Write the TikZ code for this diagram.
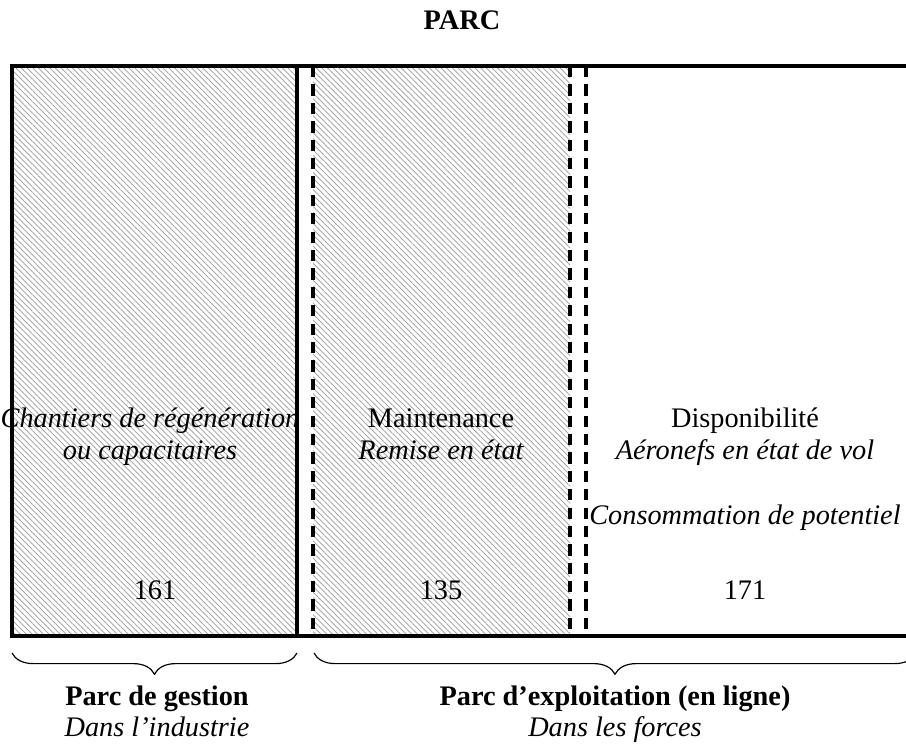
\documentclass[tikz,border=0pt]{standalone}
\usepackage{fontspec}
\setmainfont{Liberation Serif}
\usetikzlibrary{patterns.meta,decorations.pathreplacing}

\tikzset{
  hatch/.style={pattern={Lines[angle=-45,distance=1.7pt,line width=0.3pt]},pattern color=black!40},
  frame/.style={line width=1.7pt},
  dashdiv/.style={line width=1.3pt,dash pattern=on 4.8pt off 3pt},
  parcbrace/.style={decorate,decoration={brace,mirror,amplitude=9pt},line width=0.5pt},
  txt/.style={align=center,inner sep=0pt,anchor=base,font=\fontsize{12}{14}\selectfont},
  txti/.style={txt,font=\fontsize{12}{14}\selectfont\itshape},
  txtb/.style={txt,font=\fontsize{12}{14}\selectfont\bfseries}
}

\begin{document}
\begin{tikzpicture}[x=0.424pt,y=-0.424pt]
  \useasboundingbox (0,0) rectangle (906,744);
  \clip (0,0) rectangle (906,744);

  % outline of the parc
  \coordinate (tl) at (12,66);
  \coordinate (bl) at (12,636);
  \coordinate (tr) at (918,66);
  \coordinate (br) at (918,636);
  \coordinate (g1t) at (297,66);  \coordinate (g1b) at (297,636);
  \coordinate (m1t) at (313,66);  \coordinate (m1b) at (313,636);
  \coordinate (m2t) at (570,66);  \coordinate (m2b) at (570,636);
  \coordinate (d1t) at (586,66);  \coordinate (d1b) at (586,636);

  \fill[hatch] (tl) rectangle (g1b);
  \fill[hatch] (m1t) rectangle (m2b);

  % texts in the columns
  \node[txti] (chantiers) at (150,428) {Chantiers de régénération};
  \node[txti] (capa) at (150,460) {ou capacitaires};
  \node[txt] (n161) at (155,600) {161};

  \node[txt] (maint) at (441,428) {Maintenance};
  \node[txti] (remise) at (441,460) {Remise en état};
  \node[txt] (n135) at (441,600) {135};

  \node[txt] (dispo) at (745,428) {Disponibilité};
  \node[txti] (aeronefs) at (745,460) {Aéronefs en état de vol};
  \node[txti] (conso) at (745,525) {Consommation de potentiel};
  \node[txt] (n171) at (745,600) {171};

  \draw[frame] (tr) -- (tl) -- (bl) -- (br);
  \draw[frame] (g1t) -- (g1b);
  \draw[dashdiv] (m1t) -- (m1b);
  \draw[dashdiv] (m2t) -- (m2b);
  \draw[dashdiv] (d1t) -- (d1b);

  \node[txtb] (parc) at (462,30) {PARC};

  % braces below
  \coordinate (b1l) at (12,653);
  \coordinate (b1r) at (297,653);
  \coordinate (b2l) at (314,653);
  \coordinate (b2r) at (916,653);
  \draw[parcbrace] (b1l) -- (b1r);
  \draw[parcbrace] (b2l) -- (b2r);

  \node[txtb] (gestion) at (157,706) {Parc de gestion};
  \node[txti] (industrie) at (157,737) {Dans l’industrie};
  \node[txtb] (exploit) at (615,706) {Parc d’exploitation (en ligne)};
  \node[txti] (forces) at (615,737) {Dans les forces};
\end{tikzpicture}
\end{document}
